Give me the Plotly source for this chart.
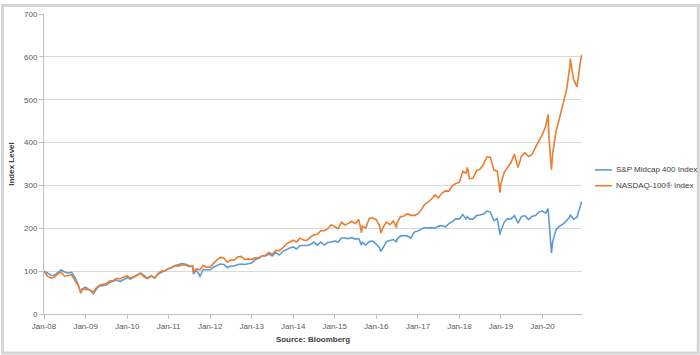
import pandas as pd
import plotly.graph_objects as go

# Month-end readings, Jan-2008 .. Nov-2020 (index level, start = 100)
ndx_month = [
    88.3, 84.1, 85.4, 93.5, 97.4, 88.1, 89.2, 91.6, 77.7, 64.7, 56.6, 58.1,
    56.6, 53.2, 59.3, 66.7, 69.1, 70.8, 77.0, 78.2, 82.5, 82.5, 86.3, 89.2,
    83.5, 86.8, 91.1, 94.5, 86.3, 82.5, 88.2, 83.9, 95.0, 100.2, 100.7, 106.3,
    108.4, 112.2, 111.8, 115.1, 114.1, 110.3, 112.7, 105.5, 102.6, 113.2, 109.4, 109.3,
    118.0, 126.1, 131.9, 130.5, 120.9, 125.7, 126.1, 132.9, 134.3, 127.6, 128.5, 127.6,
    130.9, 131.4, 135.3, 136.7, 143.4, 139.6, 148.7, 147.2, 154.4, 163.1, 167.9, 172.2,
    167.9, 177.0, 172.7, 171.7, 179.4, 184.7, 186.1, 194.2, 194.2, 199.0, 208.2, 203.4,
    199.0, 213.9, 207.7, 211.5, 216.3, 211.0, 220.6, 204.8, 200.5, 223.0, 224.5, 220.1,
    205.3, 201.4, 214.9, 208.2, 216.8, 212.0, 226.9, 228.8, 234.0, 230.2, 230.2, 233.1,
    243.6, 255.6, 260.9, 267.6, 277.7, 271.0, 282.0, 287.3, 286.8, 299.8, 304.6, 307.0,
    333.0, 328.5, 315.6, 316.5, 334.3, 337.6, 348.7, 366.9, 366.0, 335.7, 333.3, 303.6,
    331.0, 342.4, 354.0, 373.1, 342.0, 367.9, 376.5, 367.4, 371.7, 388.0, 402.9, 418.7,
    438.8, 405.8, 374.6, 426.4, 458.0, 487.3, 522.8, 580.8, 547.7, 530.0, 588.5,
]
mid_month = [
    94.4, 90.9, 90.3, 96.7, 102.6, 97.9, 95.6, 97.3, 85.1, 65.3, 58.3, 62.7,
    57.1, 51.3, 55.9, 64.7, 66.4, 67.6, 73.4, 75.8, 79.3, 75.8, 80.4, 84.7,
    81.6, 86.2, 91.5, 95.6, 89.7, 83.9, 89.2, 83.9, 93.2, 97.3, 100.8, 105.7,
    108.4, 113.1, 115.4, 117.7, 116.0, 113.6, 109.6, 102.6, 90.9, 103.7, 102.6, 102.6,
    109.6, 113.1, 116.6, 115.4, 108.4, 111.9, 111.9, 115.4, 116.6, 115.4, 116.6, 118.9,
    127.0, 129.4, 135.2, 135.2, 139.9, 135.2, 143.4, 137.5, 145.7, 150.3, 153.8, 156.4,
    151.5, 159.7, 159.7, 159.7, 162.0, 167.8, 160.8, 167.8, 160.8, 166.7, 167.8, 170.2,
    167.8, 177.2, 177.2, 176.0, 178.3, 174.8, 176.0, 167.8, 160.8, 169.0, 170.2, 163.2,
    153.8, 155.0, 169.0, 171.3, 173.7, 174.8, 181.8, 183.0, 181.8, 177.2, 191.1, 193.5,
    198.1, 201.6, 200.5, 201.6, 200.5, 205.1, 206.3, 202.8, 211.0, 215.6, 222.6, 221.4,
    231.9, 221.4, 221.4, 221.4, 229.6, 230.8, 233.1, 240.1, 237.8, 217.9, 222.6, 193.5,
    214.5, 222.6, 221.4, 229.6, 212.1, 227.3, 229.6, 220.3, 227.3, 229.6, 237.8, 240.1,
    235.4, 214.5, 169.0, 197.0, 205.1, 209.8, 217.9, 227.3, 221.4, 226.1, 256.4,
]
# Additional readings at visible turning points
extra_dates = ["2008-01-02", "2008-11-20", "2009-03-09", "2011-08-08", "2011-10-03",
               "2015-08-24", "2016-02-10", "2016-06-27", "2018-03-12", "2018-12-24",
               "2020-02-19", "2020-03-20", "2020-09-02", "2020-12-11"]
extra_ndx = [100.0, 49.7, 50.0, 97.6, 103.1, 189.4, 189.4, 201.4, 342.0, 282.9,
             466.0, 336.7, 595.7, 605.0]
extra_mid = [100.0, 48.5, 47.1, 93.2, 86.2, 160.8, 145.7, 167.8, 227.3, 185.3,
             245.9, 142.2, 231.9, 262.0]

month_dates = pd.date_range(start="2008-02-01", periods=len(ndx_month), freq="MS") - pd.Timedelta(days=1)

df = pd.DataFrame({
    "date": list(month_dates) + list(pd.to_datetime(extra_dates)),
    "mid": mid_month + extra_mid,
    "ndx": ndx_month + extra_ndx,
}).sort_values("date")

series_names = ["S&P Midcap 400 Index", "NASDAQ-100® Index"]
colors = ["#5B9BD5", "#ED7D31"]

fig = go.Figure()
fig.add_trace(go.Scatter(x=df["date"], y=df["mid"], mode="lines", name=series_names[0],
                         line=dict(color=colors[0], width=1.6)))
fig.add_trace(go.Scatter(x=df["date"], y=df["ndx"], mode="lines", name=series_names[1],
                         line=dict(color=colors[1], width=1.6)))

W, H = 700, 355
L, R, T, B = 43, 118, 10, 41
pw, ph = W - L - R, H - T - B

def px_to_paper_x(px):
    return (px - L) / pw

def px_to_paper_y(py):
    return (H - B - py) / ph

# outer chart border
fig.add_shape(type="rect", xref="paper", yref="paper",
              x0=px_to_paper_x(1.5), x1=px_to_paper_x(W - 1.5),
              y0=px_to_paper_y(H - 1.5), y1=px_to_paper_y(1.5),
              line=dict(color="#d6d6d6", width=3), layer="below")

# legend drawn beside the plot (keeps the plot area at its full width)
legend_rows_px = [168, 184]
for name, color, ypx in zip(series_names, colors, legend_rows_px):
    fig.add_shape(type="line", xref="paper", yref="paper",
                  x0=px_to_paper_x(595), x1=px_to_paper_x(612),
                  y0=px_to_paper_y(ypx), y1=px_to_paper_y(ypx),
                  line=dict(color=color, width=1.6))
    fig.add_annotation(x=px_to_paper_x(614), y=px_to_paper_y(ypx), xref="paper", yref="paper",
                       text=name, showarrow=False, xanchor="left", yanchor="middle",
                       font=dict(size=8, color="#404040"))

font_family = "Liberation Sans, Arial, sans-serif"
fig.update_layout(
    width=W, height=H,
    margin=dict(l=L, r=R, t=T, b=B),
    paper_bgcolor="white", plot_bgcolor="white",
    font=dict(family=font_family, size=8, color="#595959"),
    showlegend=False,
    xaxis=dict(
        type="date",
        range=["2008-01-01", "2020-12-14"],
        tick0="2008-01-01", dtick="M12", tickformat="%b-%y",
        showgrid=False, showline=True, linecolor="#bfbfbf", linewidth=1,
        ticks="outside", ticklen=4, tickcolor="#bfbfbf",
        tickfont=dict(size=8, color="#595959"),
        title=dict(text="<b>Source: Bloomberg</b>", font=dict(size=8, color="#404040"), standoff=6),
        zeroline=False,
    ),
    yaxis=dict(
        range=[0, 700], dtick=100,
        showgrid=True, gridcolor="#d9d9d9", gridwidth=1,
        showline=True, linecolor="#bfbfbf", linewidth=1,
        ticks="outside", ticklen=4, tickcolor="#bfbfbf",
        tickfont=dict(size=8, color="#595959"),
        title=dict(text="<b>Index Level</b>", font=dict(size=8, color="#404040"), standoff=8),
        zeroline=False,
    ),
)

fig.write_html("out.html")
